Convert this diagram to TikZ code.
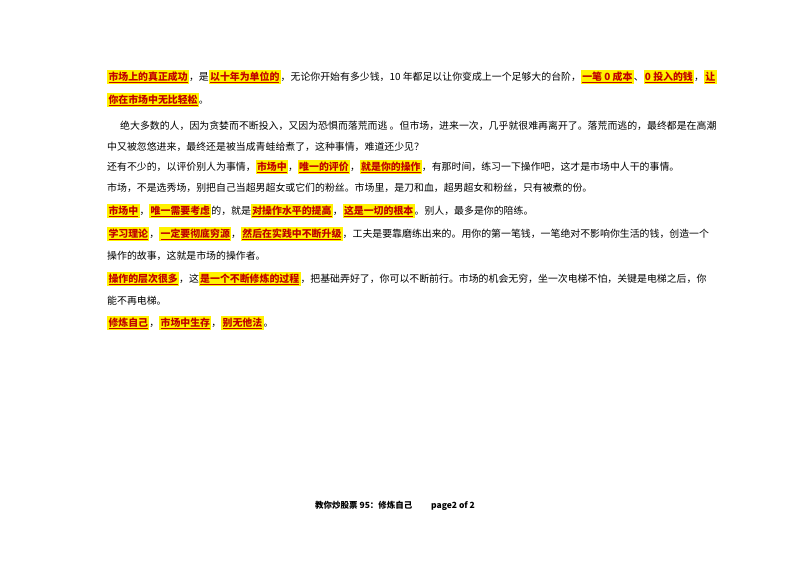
\documentclass[tikz,border=0pt]{standalone}
\usepackage{fontspec}
\setmainfont{Liberation Sans}
\newfontfamily\cjk{Noto Sans CJK SC}
\definecolor{hlred}{HTML}{C00000}
\newcommand{\hlt}[1]{{\setlength{\fboxsep}{1.3pt}\colorbox{yellow}{\color{hlred}\bfseries\underline{#1}}}}
\begin{document}
\begin{tikzpicture}[x=1pt,y=-1pt,
  ln/.style={anchor=base west,inner sep=0pt,font=\cjk\fontsize{9.9}{11}\selectfont},
  ft/.style={anchor=base,inner sep=0pt,font=\cjk\bfseries\fontsize{8.5}{10}\selectfont}]
\fill[white] (0,0) rectangle (800,566);
\useasboundingbox (0,0) rectangle (800,566);
\node[ln] (l1) at (107,80) {\hlt{市场上的真正成功}，是\hlt{以十年为单位的}，无论你开始有多少钱，10 年都足以让你变成上一个足够大的台阶，\hlt{一笔 0 成本}、\hlt{0 投入的钱}，\hlt{让}};
\node[ln] (l2) at (107,103) {\hlt{你在市场中无比轻松}。};
\node[ln] (l3) at (120,129) {绝大多数的人，因为贪婪而不断投入，又因为恐惧而落荒而逃 。但市场，进来一次，几乎就很难再离开了。落荒而逃的，最终都是在高潮};
\node[ln] (l4) at (107,150) {中又被忽悠进来，最终还是被当成青蛙给煮了，这种事情，难道还少见？};
\node[ln] (l5) at (107,170) {还有不少的，以评价别人为事情，\hlt{市场中}，\hlt{唯一的评价}，\hlt{就是你的操作}，有那时间，练习一下操作吧，这才是市场中人干的事情。};
\node[ln] (l6) at (107,191) {市场，不是选秀场，别把自己当超男超女或它们的粉丝。市场里，是刀和血，超男超女和粉丝，只有被煮的份。};
\node[ln] (l7) at (107,214) {\hlt{市场中}，\hlt{唯一需要考虑}的，就是\hlt{对操作水平的提高}，\hlt{这是一切的根本}。别人，最多是你的陪练。};
\node[ln] (l8) at (107,237) {\hlt{学习理论}，\hlt{一定要彻底穷源}，\hlt{然后在实践中不断升级}，工夫是要靠磨练出来的。用你的第一笔钱，一笔绝对不影响你生活的钱，创造一个};
\node[ln] (l9) at (107,259) {操作的故事，这就是市场的操作者。};
\node[ln] (l10) at (107,282) {\hlt{操作的层次很多}，这\hlt{是一个不断修炼的过程}，把基础弄好了，你可以不断前行。市场的机会无穷，坐一次电梯不怕，关键是电梯之后，你};
\node[ln] (l11) at (107,304) {能不再电梯。};
\node[ln] (l12) at (107,326) {\hlt{修炼自己}，\hlt{市场中生存}，\hlt{别无他法}。};
\node[ft] (ft) at (395,508) {教你炒股票 95：修炼自己\hspace{2.2em}page2 of 2};
\end{tikzpicture}
\end{document}
